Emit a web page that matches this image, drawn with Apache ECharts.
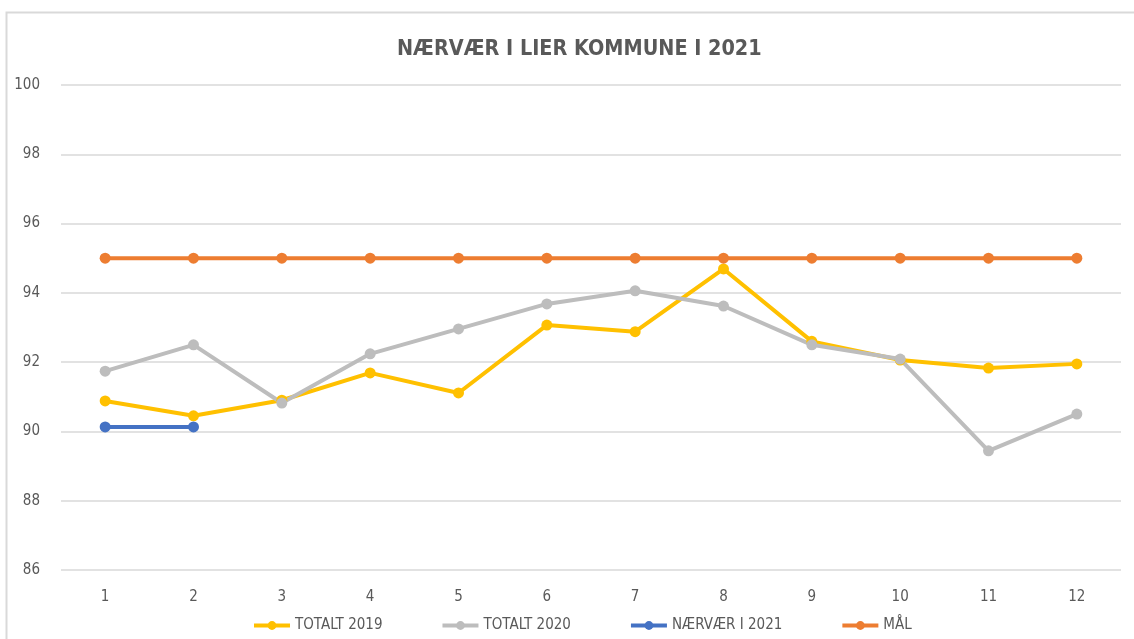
<!DOCTYPE html>
<html>
<head>
<meta charset="utf-8">
<script src="https://cdn.jsdelivr.net/npm/echarts@6/dist/echarts.min.js"></script>
<style>
html,body{margin:0;padding:0;background:#fff;}
#c{width:1134px;height:639px;}
</style>
</head>
<body>
<div id="c"></div>
<script>
const categories = ['1','2','3','4','5','6','7','8','9','10','11','12'];
const totalt2019 = [90.88, 90.45, 90.9, 91.69, 91.11, 93.07, 92.88, 94.69, 92.6, 92.06, 91.83, 91.95];
const totalt2020 = [91.74, 92.5, 90.82, 92.24, 92.96, 93.68, 94.06, 93.62, 92.5, 92.09, 89.44, 90.5];
const naervaer2021 = [90.13, 90.13];
const maal = [95, 95, 95, 95, 95, 95, 95, 95, 95, 95, 95, 95];
const seriesNames = ['TOTALT 2019', 'TOTALT 2020', 'NÆRVÆR I 2021', 'MÅL'];
const colors = ['#FFC000', '#BDBDBD', '#4472C4', '#ED7D31'];

const chart = echarts.init(document.getElementById('c'));
const font = 'Liberation Sans Narrow, "DejaVu Sans Condensed", "Liberation Sans", sans-serif';
function mk(name, data, color) {
  return {
    name: name, type: 'line', data: data,
    symbol: 'circle', symbolSize: 11,
    lineStyle: { width: 4, color: color },
    itemStyle: { color: color },
    emphasis: { disabled: true },
    animation: false
  };
}
chart.setOption({
  animation: false,
  color: colors,
  title: {
    text: 'NÆRVÆR I LIER KOMMUNE I 2021',
    left: 392, top: 34,
    textStyle: { fontFamily: font, fontWeight: 'bold', fontSize: 21.4, color: '#595959' }
  },
  graphic: [{
    type: 'rect', silent: true,
    shape: { x: 6.5, y: 12.5, width: 1150, height: 650 },
    style: { fill: 'none', stroke: '#d9d9d9', lineWidth: 2 }
  }],
  legend: {
    bottom: 1, left: 247,
    itemWidth: 36, itemHeight: 11, itemGap: 58,
    lineStyle: { width: 4 },
    textStyle: { fontFamily: font, fontSize: 15, color: '#595959' },
    data: seriesNames
  },
  grid: { left: 61, right: 13, top: 85, bottom: 69 },
  xAxis: {
    type: 'category', data: categories, boundaryGap: true,
    axisLine: { show: false }, axisTick: { show: false },
    axisLabel: { margin: 20, fontFamily: font, fontSize: 15, color: '#595959' }
  },
  yAxis: {
    type: 'value', min: 86, max: 100, interval: 2,
    axisLine: { show: false }, axisTick: { show: false },
    axisLabel: { margin: 21, fontFamily: font, fontSize: 15, color: '#595959' },
    splitLine: { lineStyle: { color: '#d9d9d9', width: 1.5 } }
  },
  series: [
    mk(seriesNames[0], totalt2019, colors[0]),
    mk(seriesNames[1], totalt2020, colors[1]),
    mk(seriesNames[2], naervaer2021, colors[2]),
    mk(seriesNames[3], maal, colors[3])
  ]
});
</script>
</body>
</html>
